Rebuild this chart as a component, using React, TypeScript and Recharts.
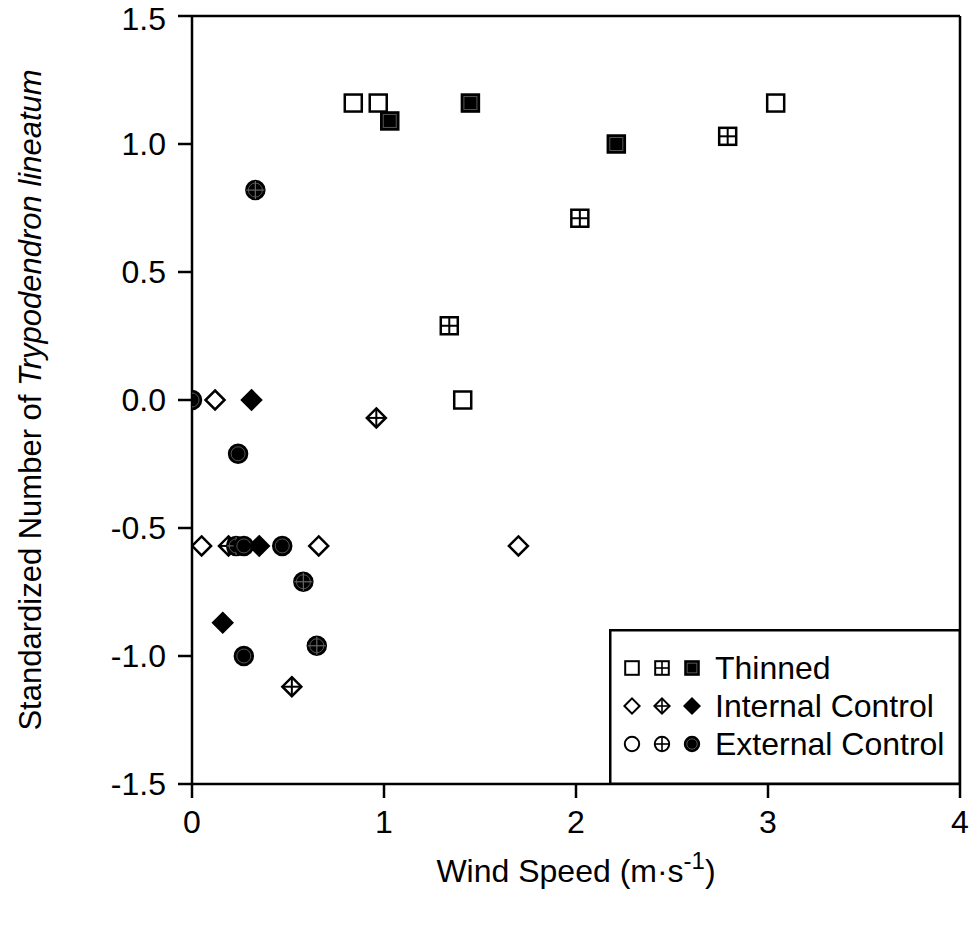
import React from 'react';
import { ScatterChart, Scatter, XAxis, YAxis, ReferenceLine, Legend } from 'recharts';

// wind speed (m/s) vs standardized count
const thinnedOpen = [
  { x: 0.84, y: 1.16 },
  { x: 0.97, y: 1.16 },
  { x: 1.41, y: 0.0 },
  { x: 3.04, y: 1.16 },
];
const thinnedCross = [
  { x: 1.34, y: 0.29 },
  { x: 2.02, y: 0.71 },
  { x: 2.79, y: 1.03 },
];
const thinnedFilled = [
  { x: 1.03, y: 1.09 },
  { x: 1.45, y: 1.16 },
  { x: 2.21, y: 1.0 },
];
const internalOpen = [
  { x: 0.12, y: 0.0 },
  { x: 0.05, y: -0.57 },
  { x: 0.66, y: -0.57 },
  { x: 1.7, y: -0.57 },
];
const internalCross = [
  { x: 0.19, y: -0.57 },
  { x: 0.96, y: -0.07 },
  { x: 0.52, y: -1.12 },
];
const internalFilled = [
  { x: 0.31, y: 0.0 },
  { x: 0.35, y: -0.57 },
  { x: 0.16, y: -0.87 },
];
const externalCross = [
  { x: 0.33, y: 0.82 },
  { x: 0.23, y: -0.57 },
  { x: 0.58, y: -0.71 },
  { x: 0.65, y: -0.96 },
];
const externalFilled = [
  { x: 0.0, y: 0.0 },
  { x: 0.24, y: -0.21 },
  { x: 0.27, y: -0.57 },
  { x: 0.47, y: -0.57 },
  { x: 0.27, y: -1.0 },
];

const xTicks = [0, 1, 2, 3, 4];
const yTicks = [-1.5, -1.0, -0.5, 0.0, 0.5, 1.0, 1.5];
const legendRows = [
  { label: 'Thinned', kind: 'square' },
  { label: 'Internal Control', kind: 'diamond' },
  { label: 'External Control', kind: 'circle' },
];

const FONT = '"Liberation Sans", Arial, sans-serif';

type Kind = 'square' | 'diamond' | 'circle';
type Style = 'open' | 'cross' | 'filled' | 'darkcross';

function Glyph({ kind, style, cx, cy, s = 1 }: { kind: Kind; style: Style; cx: number; cy: number; s?: number }) {
  const h = (kind === 'diamond' ? 9.5 : kind === 'circle' ? 9 : 8.5) * s;
  const dark = style === 'filled' || style === 'darkcross';
  const fill = dark ? '#000' : '#fff';
  const sw = 2.5 * s;
  let outline: React.ReactNode = null;
  let inner: React.ReactNode = null;
  if (kind === 'square') {
    outline = <rect x={cx - h} y={cy - h} width={2 * h} height={2 * h} fill={fill} stroke="#000" strokeWidth={sw} />;
    if (dark) inner = <rect x={cx - h + 2} y={cy - h + 2} width={2 * h - 4} height={2 * h - 4} fill="none" stroke="#555" strokeWidth={1} />;
  } else if (kind === 'diamond') {
    const pts = `${cx},${cy - h} ${cx + h},${cy} ${cx},${cy + h} ${cx - h},${cy}`;
    outline = <polygon points={pts} fill={fill} stroke="#000" strokeWidth={sw} strokeLinejoin="miter" />;
  } else {
    outline = <circle cx={cx} cy={cy} r={h} fill={fill} stroke="#000" strokeWidth={sw} />;
    if (dark) inner = <circle cx={cx} cy={cy} r={h - 2} fill="none" stroke="#555" strokeWidth={1} />;
  }
  let cross: React.ReactNode = null;
  if (style === 'cross' || style === 'darkcross') {
    const c = style === 'darkcross' ? '#666' : '#000';
    const w = style === 'darkcross' ? 1.2 : 2 * s;
    cross = (
      <g stroke={c} strokeWidth={w}>
        <line x1={cx - h} y1={cy} x2={cx + h} y2={cy} />
        <line x1={cx} y1={cy - h} x2={cx} y2={cy + h} />
      </g>
    );
  }
  return (
    <g>
      {outline}
      {inner}
      {cross}
    </g>
  );
}

const shape = (kind: Kind, style: Style) => (p: any) => <Glyph kind={kind} style={style} cx={p.cx} cy={p.cy} />;

function YTitle(props: any) {
  const vb = props.viewBox || { x: 0, y: 16, height: 768 };
  const x = 30;
  const y = vb.y + vb.height / 2;
  return (
    <text x={x} y={y} transform={`rotate(-90, ${x}, ${y})`} textAnchor="middle" dominantBaseline="central" fontSize={31} fontFamily={FONT} fill="#000">
      {'Standardized Number of '}
      <tspan fontStyle="italic">Trypodendron lineatum</tspan>
    </text>
  );
}

function XTitle(props: any) {
  const vb = props.viewBox || { x: 192, width: 768 };
  const x = vb.x + vb.width / 2;
  return (
    <text x={x} y={882} textAnchor="middle" fontSize={32} fontFamily={FONT} fill="#000">
      {'Wind Speed (m\u00b7s'}
      <tspan fontSize={24} dy={-13}>-1</tspan>
      <tspan dy={13}>)</tspan>
    </text>
  );
}

function LegendBox() {
  const cols: Style[] = ['open', 'cross', 'filled'];
  return (
    <svg width={352} height={156} style={{ display: 'block' }}>
      <rect x={1.25} y={1.25} width={349.5} height={153.5} fill="#fff" stroke="#000" strokeWidth={2.5} />
      {legendRows.map((r, i) => {
        const cy = 39 + i * 38;
        return (
          <g key={r.label}>
            {cols.map((st, j) => (
              <Glyph key={st} kind={r.kind as Kind} style={st} cx={23 + j * 30} cy={cy} s={0.8} />
            ))}
            <text x={106} y={cy + 11} fontSize={32} fontFamily={FONT} fill="#000">
              {r.label}
            </text>
          </g>
        );
      })}
    </svg>
  );
}

export default function App() {
  const tickStyle = { fill: '#000', fontSize: 32, fontFamily: FONT };
  return (
    <div style={{ position: 'absolute', left: 0, top: 0, background: '#fff' }}>
      <ScatterChart width={969} height={928} margin={{ top: 16, right: 9, bottom: 0, left: 0 }}>
        <XAxis
          type="number"
          dataKey="x"
          domain={[0, 4]}
          ticks={xTicks}
          allowDataOverflow
          height={144}
          tickSize={14}
          tickMargin={12}
          axisLine={{ stroke: '#000', strokeWidth: 2.5 }}
          tickLine={{ stroke: '#000', strokeWidth: 2.5 }}
          tick={tickStyle}
          label={<XTitle />}
        />
        <YAxis
          type="number"
          dataKey="y"
          domain={[-1.5, 1.5]}
          ticks={yTicks}
          allowDataOverflow
          width={192}
          tickSize={14}
          tickMargin={12}
          tickFormatter={(v: number) => v.toFixed(1)}
          axisLine={{ stroke: '#000', strokeWidth: 2.5 }}
          tickLine={{ stroke: '#000', strokeWidth: 2.5 }}
          tick={tickStyle}
          label={<YTitle />}
        />
        <ReferenceLine y={1.5} stroke="#000" strokeWidth={2.5} />
        <ReferenceLine x={4} stroke="#000" strokeWidth={2.5} />
        <Scatter name="Thinned open" data={thinnedOpen} shape={shape('square', 'open')} isAnimationActive={false} />
        <Scatter name="Thinned cross" data={thinnedCross} shape={shape('square', 'cross')} isAnimationActive={false} />
        <Scatter name="Thinned filled" data={thinnedFilled} shape={shape('square', 'filled')} isAnimationActive={false} />
        <Scatter name="Internal open" data={internalOpen} shape={shape('diamond', 'open')} isAnimationActive={false} />
        <Scatter name="Internal cross" data={internalCross} shape={shape('diamond', 'cross')} isAnimationActive={false} />
        <Scatter name="External cross" data={externalCross} shape={shape('circle', 'darkcross')} isAnimationActive={false} />
        <Scatter name="External filled" data={externalFilled} shape={shape('circle', 'filled')} isAnimationActive={false} />
        <Scatter name="Internal filled" data={internalFilled} shape={shape('diamond', 'filled')} isAnimationActive={false} />
        <Legend
          layout="horizontal"
          align="center"
          verticalAlign="middle"
          content={() => <LegendBox />}
          wrapperStyle={{ left: 609, top: 629, width: 352, height: 156 }}
        />
      </ScatterChart>
    </div>
  );
}
